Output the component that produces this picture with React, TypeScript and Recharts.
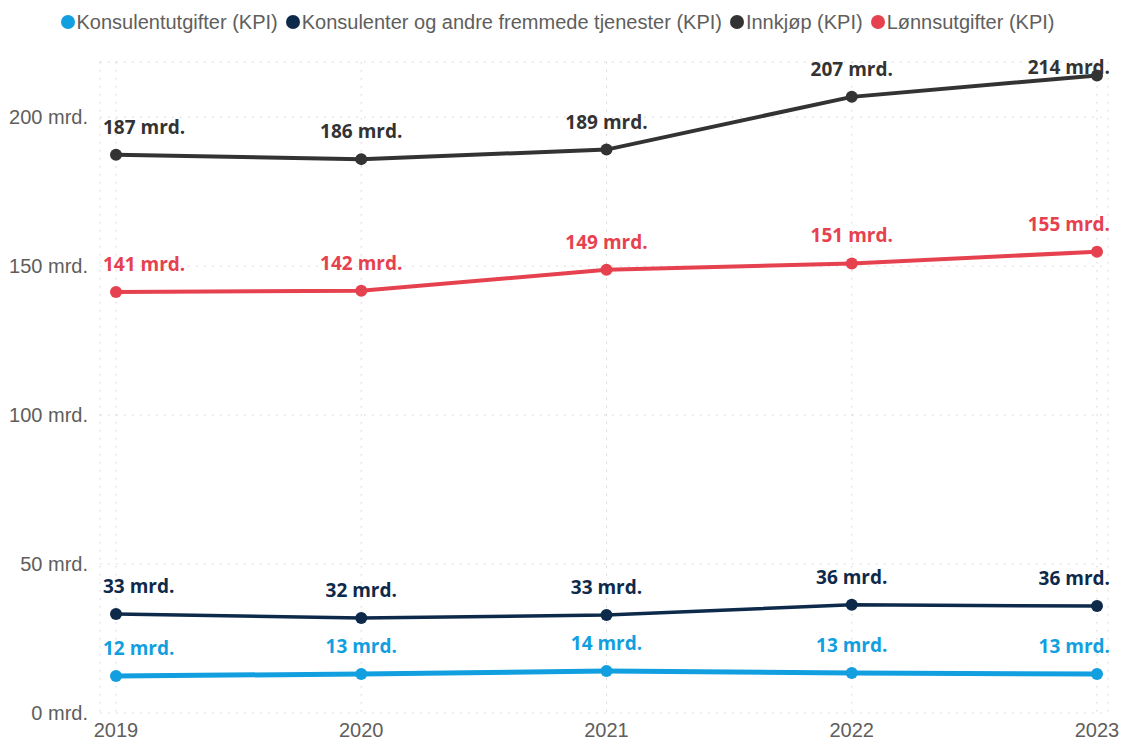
import React from 'react';
import { LineChart, Line, XAxis, YAxis, CartesianGrid, Legend, LabelList } from 'recharts';

const years = ['2019', '2020', '2021', '2022', '2023'];
const konsulentutgifter = [12.4, 13.1, 14.1, 13.4, 13.1];
const konsulenterOgAndre = [33.2, 31.9, 32.9, 36.3, 35.9];
const innkjop = [187.4, 185.9, 189.1, 206.8, 214.0];
const lonnsutgifter = [141.3, 141.7, 148.8, 150.9, 154.8];
const yTicks = [0, 50, 100, 150, 200];

const series = [
  { key: 'konsulent', name: 'Konsulentutgifter (KPI)', values: konsulentutgifter, color: '#129fe0', width: 5 },
  { key: 'andre', name: 'Konsulenter og andre fremmede tjenester (KPI)', values: konsulenterOgAndre, color: '#0e2a4b', width: 3.5 },
  { key: 'innkjop', name: 'Innkjøp (KPI)', values: innkjop, color: '#333333', width: 4 },
  { key: 'lonn', name: 'Lønnsutgifter (KPI)', values: lonnsutgifter, color: '#e6414f', width: 4 },
];

const data = years.map((year, i) => {
  const row: Record<string, any> = { year };
  series.forEach((s) => {
    row[s.key] = s.values[i];
  });
  return row;
});

const labelFont = '"Open Sans", "Noto Sans", sans-serif';
const axisFont = '"Liberation Sans", Arial, sans-serif';

// data labels sit above the point, pushed inside the plot at the edges like Power BI does
const makeLabel = (color: string) => (props: any) => {
  const { x, y, index, value } = props;
  const first = index === 0;
  const last = index === years.length - 1;
  const anchor = first ? 'start' : last ? 'end' : 'middle';
  const lx = first ? x - 13 : last ? x + 13 : x;
  const ly = Math.max(y - 21, 74);
  return (
    <text x={lx} y={ly} textAnchor={anchor} fill={color} fontSize={19} fontWeight={700} fontFamily={labelFont}>
      {`${Math.round(value)} mrd.`}
    </text>
  );
};

const renderLegend = () => (
  <div
    style={{
      display: 'flex',
      justifyContent: 'center',
      fontFamily: axisFont,
      fontSize: 20,
      lineHeight: '22px',
      color: '#605e5c',
      whiteSpace: 'nowrap',
    }}
  >
    {series.map((s) => (
      <span key={s.key} style={{ display: 'inline-flex', alignItems: 'center', marginRight: 8 }}>
        <span
          style={{
            display: 'inline-block',
            width: 14,
            height: 14,
            borderRadius: '50%',
            background: s.color,
            marginRight: 2,
          }}
        />
        {s.name}
      </span>
    ))}
  </div>
);

const App: React.FC = () => {
  return (
    <div style={{ position: 'absolute', left: 0, top: 0, width: 1123, height: 742, background: '#fff' }}>
      <LineChart width={1123} height={742} data={data} margin={{ top: 40, right: 15, bottom: 0, left: 0 }}>
        <CartesianGrid stroke="#d0d0d0" strokeDasharray="1.5 6.5" />
        <XAxis
          dataKey="year"
          axisLine={false}
          tickLine={false}
          tickMargin={4}
          height={29}
          padding={{ left: 16, right: 11 }}
          tick={{ fill: '#605e5c', fontSize: 20, fontFamily: axisFont }}
        />
        <YAxis
          domain={[0, 218.5]}
          ticks={yTicks}
          width={100}
          axisLine={false}
          tickLine={false}
          tickMargin={6}
          tickFormatter={(v) => `${v} mrd.`}
          tick={{ fill: '#605e5c', fontSize: 20, fontFamily: axisFont }}
        />
        <Legend verticalAlign="top" content={renderLegend} wrapperStyle={{ top: 11, left: 0, width: 1123 }} />
        {series.map((s) => (
          <Line
            key={s.key}
            type="linear"
            dataKey={s.key}
            name={s.name}
            stroke={s.color}
            strokeWidth={s.width}
            dot={{ r: 6, fill: s.color, stroke: s.color, strokeWidth: 0 }}
            activeDot={false}
            isAnimationActive={false}
          >
            <LabelList dataKey={s.key} content={makeLabel(s.color)} />
          </Line>
        ))}
      </LineChart>
    </div>
  );
};

export default App;
